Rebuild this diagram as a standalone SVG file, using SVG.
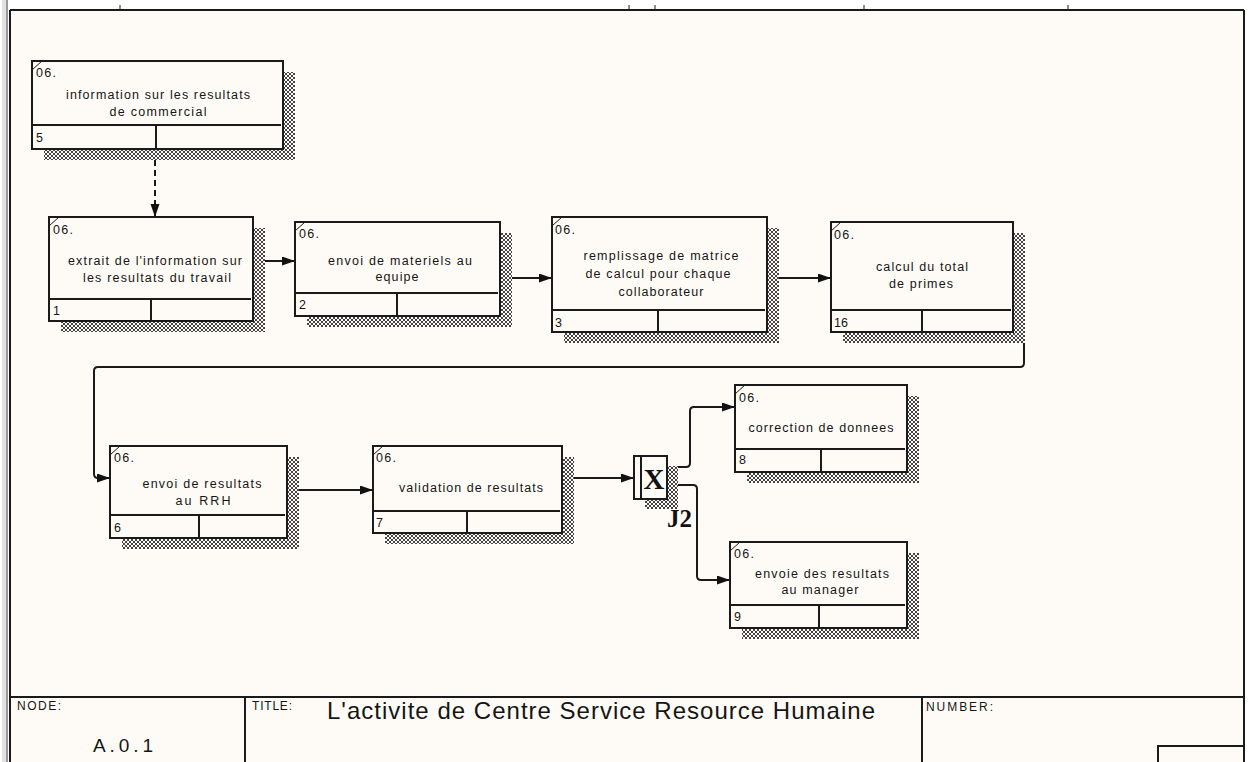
<svg xmlns="http://www.w3.org/2000/svg" width="1249" height="762" viewBox="0 0 1249 762">
<style>
.box{fill:#FEFBF6;stroke:#1a1a1a;stroke-width:2}
.ln{stroke:#1a1a1a;stroke-width:2;fill:none}
.tk{stroke:#1a1a1a;stroke-width:1}
.sh{fill:url(#hatch)}
.t{font-family:"Liberation Sans",Arial,sans-serif;font-size:12.5px;fill:#151515}
.c{text-anchor:middle}
.lab{font-size:12px}
.node{font-size:19px}
.title{font-size:24px}
.conn{fill:none;stroke:#1a1a1a;stroke-width:2}
.jt{font-family:"Liberation Serif","Times New Roman",serif;font-weight:bold;fill:#111}
</style>
<defs>
<pattern id="hatch" width="4" height="4" patternUnits="userSpaceOnUse">
<rect width="4" height="4" fill="#FEFBF6"/>
<rect x="0" y="0" width="1" height="1" fill="#444"/>
<rect x="1" y="1" width="1" height="1" fill="#444"/>
<rect x="2" y="2" width="1" height="1" fill="#444"/>
<rect x="3" y="3" width="1" height="1" fill="#444"/>
<rect x="3" y="0" width="1" height="1" fill="#444"/>
<rect x="2" y="1" width="1" height="1" fill="#444"/>
<rect x="1" y="2" width="1" height="1" fill="#444"/>
<rect x="0" y="3" width="1" height="1" fill="#444"/>
</pattern>
<marker id="arr" markerWidth="14" markerHeight="10" refX="13" refY="4.5" orient="auto" markerUnits="userSpaceOnUse">
<path d="M0,0 L13,4.5 L0,9 z" fill="#111"/>
</marker>
</defs>

<!-- page -->
<rect x="0" y="0" width="1249" height="762" fill="#ffffff"/>
<rect x="10" y="10" width="1234" height="752" fill="#FEFBF6"/>
<rect x="2" y="0" width="4" height="762" fill="#e2e2e2"/>
<rect x="6" y="0" width="2" height="762" fill="#9a9a9a"/>
<g id="frame">
<line class="ln" x1="10" y1="10" x2="1244" y2="10"/>
<line class="ln" x1="10" y1="10" x2="10" y2="762"/>
<line class="ln" x1="1244" y1="10" x2="1244" y2="762"/>
<line class="tk" x1="120" y1="5" x2="120" y2="10"/>
<line class="tk" x1="629" y1="5" x2="629" y2="10"/>
<line class="tk" x1="655" y1="5" x2="655" y2="10"/>
<line class="tk" x1="864" y1="5" x2="864" y2="10"/>
<line class="tk" x1="1068" y1="5" x2="1068" y2="10"/>
</g>

<!-- connectors -->
<g id="connectors">
<line class="conn" x1="155" y1="150" x2="155" y2="217" stroke-dasharray="6 4" marker-end="url(#arr)"/>
<line class="conn" x1="253" y1="261" x2="295" y2="261" marker-end="url(#arr)"/>
<line class="conn" x1="500" y1="278" x2="552" y2="278" marker-end="url(#arr)"/>
<line class="conn" x1="767" y1="278" x2="831" y2="278" marker-end="url(#arr)"/>
<path class="conn" d="M1013,263 H1020 Q1024,263 1024,267 V363 Q1024,367 1020,367 H98 Q94,367 94,371 V474 Q94,478 98,478 H110" marker-end="url(#arr)"/>
<line class="conn" x1="287" y1="490" x2="373" y2="490" marker-end="url(#arr)"/>
<line class="conn" x1="562" y1="478" x2="634" y2="478" marker-end="url(#arr)"/>
<path class="conn" d="M667,467 H686 Q690,467 690,463 V411 Q690,407 694,407 H735" marker-end="url(#arr)"/>
<path class="conn" d="M667,485 H693 Q697,485 697,489 V576 Q697,580 701,580 H730" marker-end="url(#arr)"/>
</g>

<!-- box 5 -->
<g id="box5">
<rect class="sh" x="44" y="72" width="251" height="88"/>
<rect class="box" x="32" y="61" width="251" height="88"/>
<line class="ln" x1="32" y1="125" x2="281" y2="125"/>
<line class="ln" x1="156" y1="125" x2="156" y2="149"/>
<line class="tk" x1="32" y1="70" x2="42" y2="61"/>
<text class="t" x="36" y="77" textLength="20">06.</text>
<text class="t c" x="158" y="99" textLength="184">information sur les resultats</text>
<text class="t c" x="158" y="116" textLength="97">de commercial</text>
<text class="t" x="36" y="142">5</text>
</g>

<!-- box 1 -->
<g id="box1">
<rect class="sh" x="61" y="228" width="204" height="104"/>
<rect class="box" x="49" y="217" width="204" height="104"/>
<line class="ln" x1="49" y1="299" x2="251" y2="299"/>
<line class="ln" x1="151" y1="299" x2="151" y2="321"/>
<line class="tk" x1="49" y1="226" x2="59" y2="217"/>
<text class="t" x="53" y="234" textLength="20">06.</text>
<text class="t c" x="155" y="265" textLength="174">extrait de l'information sur</text>
<text class="t c" x="157" y="282" textLength="148">les resultats du travail</text>
<text class="t" x="53" y="315">1</text>
</g>

<!-- box 2 -->
<g id="box2">
<rect class="sh" x="307" y="233" width="205" height="94"/>
<rect class="box" x="295" y="222" width="205" height="94"/>
<line class="ln" x1="295" y1="293" x2="498" y2="293"/>
<line class="ln" x1="397" y1="293" x2="397" y2="316"/>
<line class="tk" x1="295" y1="231" x2="305" y2="222"/>
<text class="t" x="299" y="238" textLength="20">06.</text>
<text class="t c" x="400" y="265" textLength="144">envoi de materiels au</text>
<text class="t c" x="397" y="281" textLength="43">equipe</text>
<text class="t" x="299" y="309">2</text>
</g>

<!-- box 3 -->
<g id="box3">
<rect class="sh" x="564" y="228" width="215" height="115"/>
<rect class="box" x="552" y="217" width="215" height="115"/>
<line class="ln" x1="552" y1="310" x2="765" y2="310"/>
<line class="ln" x1="658" y1="310" x2="658" y2="332"/>
<line class="tk" x1="552" y1="226" x2="562" y2="217"/>
<text class="t" x="555" y="234" textLength="20">06.</text>
<text class="t c" x="661" y="260" textLength="155">remplissage de matrice</text>
<text class="t c" x="658" y="278" textLength="145">de calcul pour chaque</text>
<text class="t c" x="661" y="296" textLength="85">collaborateur</text>
<text class="t" x="555" y="327">3</text>
</g>

<!-- box 16 -->
<g id="box16">
<rect class="sh" x="843" y="233" width="182" height="110"/>
<rect class="box" x="831" y="222" width="182" height="110"/>
<line class="ln" x1="831" y1="310" x2="1011" y2="310"/>
<line class="ln" x1="922" y1="310" x2="922" y2="332"/>
<line class="tk" x1="831" y1="231" x2="841" y2="222"/>
<text class="t" x="834" y="239" textLength="20">06.</text>
<text class="t c" x="922" y="271" textLength="92">calcul du total</text>
<text class="t c" x="921" y="288" textLength="64">de primes</text>
<text class="t" x="834" y="327">16</text>
</g>

<!-- box 6 -->
<g id="box6">
<rect class="sh" x="122" y="457" width="177" height="92"/>
<rect class="box" x="110" y="446" width="177" height="92"/>
<line class="ln" x1="110" y1="515" x2="285" y2="515"/>
<line class="ln" x1="199" y1="515" x2="199" y2="538"/>
<line class="tk" x1="110" y1="455" x2="120" y2="446"/>
<text class="t" x="114" y="462" textLength="20">06.</text>
<text class="t c" x="202" y="488" textLength="119">envoi de resultats</text>
<text class="t c" x="203" y="505" textLength="55">au RRH</text>
<text class="t" x="114" y="532">6</text>
</g>

<!-- box 7 -->
<g id="box7">
<rect class="sh" x="385" y="457" width="189" height="87"/>
<rect class="box" x="373" y="446" width="189" height="87"/>
<line class="ln" x1="373" y1="511" x2="560" y2="511"/>
<line class="ln" x1="467" y1="511" x2="467" y2="533"/>
<line class="tk" x1="373" y1="455" x2="383" y2="446"/>
<text class="t" x="376" y="462" textLength="20">06.</text>
<text class="t c" x="471" y="492" textLength="144">validation de resultats</text>
<text class="t" x="376" y="527">7</text>
</g>

<!-- junction J2 -->
<g id="J2">
<rect class="sh" x="645" y="466" width="33" height="43"/>
<rect class="box" x="634" y="456" width="33" height="43"/>
<line class="ln" x1="641" y1="456" x2="641" y2="499"/>
<text class="jt c" x="654" y="489" font-size="29">X</text>
<text class="jt" x="667" y="527" font-size="25">J2</text>
</g>

<!-- box 8 -->
<g id="box8">
<rect class="sh" x="747" y="396" width="172" height="87"/>
<rect class="box" x="735" y="385" width="172" height="87"/>
<line class="ln" x1="735" y1="449" x2="905" y2="449"/>
<line class="ln" x1="821" y1="449" x2="821" y2="472"/>
<line class="tk" x1="735" y1="394" x2="745" y2="385"/>
<text class="t" x="739" y="402" textLength="20">06.</text>
<text class="t c" x="821" y="432" textLength="145">correction de donnees</text>
<text class="t" x="739" y="464">8</text>
</g>

<!-- box 9 -->
<g id="box9">
<rect class="sh" x="742" y="553" width="177" height="86"/>
<rect class="box" x="730" y="542" width="177" height="86"/>
<line class="ln" x1="730" y1="605" x2="905" y2="605"/>
<line class="ln" x1="819" y1="605" x2="819" y2="628"/>
<line class="tk" x1="730" y1="551" x2="740" y2="542"/>
<text class="t" x="734" y="558" textLength="20">06.</text>
<text class="t c" x="822" y="578" textLength="134">envoie des resultats</text>
<text class="t c" x="820" y="594" textLength="77">au manager</text>
<text class="t" x="734" y="621">9</text>
</g>

<!-- title block -->
<g id="titleblock">
<line class="ln" x1="10" y1="697" x2="1244" y2="697"/>
<line class="ln" x1="245" y1="697" x2="245" y2="762"/>
<line class="ln" x1="922" y1="697" x2="922" y2="762"/>
<polyline class="ln" points="1158,762 1158,746 1244,746"/>
<text class="t lab" x="17" y="710" textLength="44">NODE:</text>
<text class="t lab" x="252" y="710" textLength="40">TITLE:</text>
<text class="t lab" x="926" y="711" textLength="67">NUMBER:</text>
<text class="t node" x="93" y="752" textLength="60">A.0.1</text>
<text class="t title" x="327" y="719" textLength="548">L'activite de Centre Service Resource Humaine</text>
</g>
</svg>
